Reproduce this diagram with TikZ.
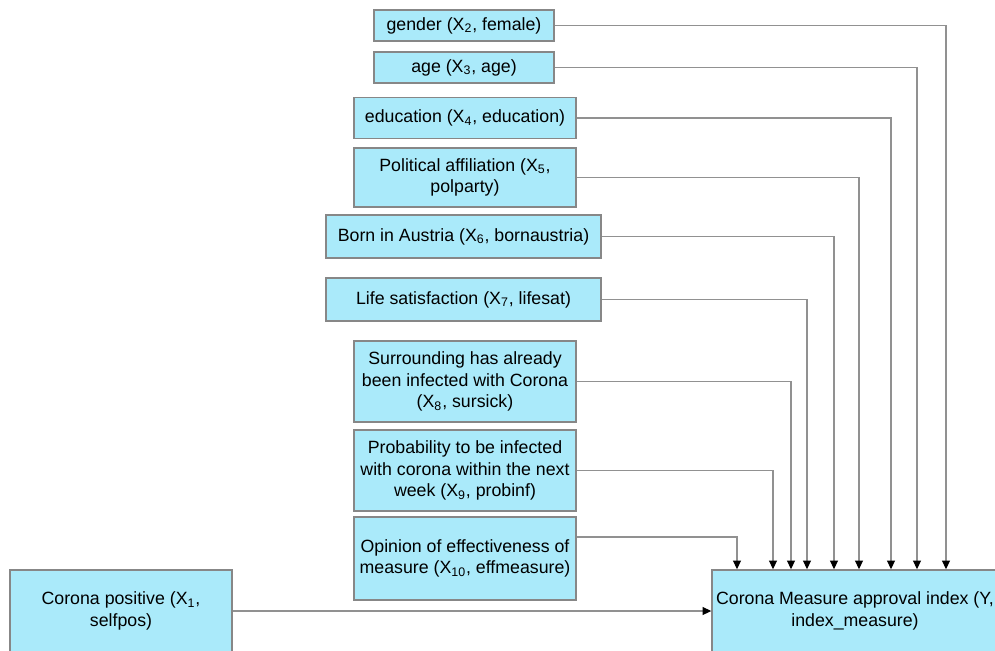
\documentclass[tikz,border=0pt]{standalone}
\usepackage{fontspec}
\setmainfont{Liberation Sans}
\usetikzlibrary{arrows.meta}
\definecolor{boxfill}{RGB}{170,234,250}
\definecolor{boxline}{RGB}{135,135,135}
\definecolor{linkgray}{RGB}{145,145,145}
\tikzset{var/.style={draw=boxline, fill=boxfill, line width=0.8pt, align=center,
                     inner sep=0pt, font=\fontsize{10.1}{12.3}\selectfont},
         link/.style={draw=linkgray, line width=0.7pt,
                      -{Triangle[length=5pt,width=4.5pt,black]}}
}
\newcommand{\xv}[1]{X\textsubscript{#1}}

\begin{document}
\begin{tikzpicture}[x=0.02cm, y=-0.02cm]
      \useasboundingbox (0,0) rectangle (995,650);
      \clip (0,0) rectangle (995,650);
      \node[var, minimum width=3.6cm, minimum height=0.62cm] (x2) at (464,25.5) {gender (\xv{2}, female)};
      \node[var, minimum width=3.6cm, minimum height=0.62cm] (x3) at (464,67.5) {age (\xv{3}, age)};
      \node[var, minimum width=4.44cm, minimum height=0.82cm] (x4) at (465,118) {education (\xv{4}, education)};
      \node[var, minimum width=4.44cm, minimum height=1.18cm] (x5) at (465,177.5) {Political affiliation (\xv{5},\\ polparty)};
      \node[var, minimum width=5.5cm, minimum height=0.86cm] (x6) at (463.5,236.5) {Born in Austria (\xv{6}, bornaustria)};
      \node[var, minimum width=5.5cm, minimum height=0.86cm] (x7) at (463.5,299.5) {Life satisfaction (\xv{7}, lifesat)};
      \node[var, minimum width=4.44cm, minimum height=1.62cm] (x8) at (465,381.5) {Surrounding has already\\ been infected with Corona\\ (\xv{8}, sursick)};
      \node[var, minimum width=4.44cm, minimum height=1.62cm] (x9) at (465,470.5) {Probability to be infected\\ with corona within the next\\ week (\xv{9}, probinf)};
      \node[var, minimum width=4.44cm, minimum height=1.66cm] (x10) at (465,558.5) {Opinion of effectiveness of\\ measure (\xv{10}, effmeasure)};
      \node[var, minimum width=4.44cm, minimum height=1.64cm] (x1) at (121,611) {Corona positive (\xv{1},\\ selfpos)};
      \node[var, minimum width=5.72cm, minimum height=1.64cm] (y) at (855,611) {Corona Measure approval index (Y,\\ index\_measure)};
      \draw[link] (x2.east) -| (946,0 |- y.north);
      \draw[link] (x3.east) -| (917,0 |- y.north);
      \draw[link] (x4.east) -| (891,0 |- y.north);
      \draw[link] (x5.east) -| (859,0 |- y.north);
      \draw[link] (x6.east) -| (834,0 |- y.north);
      \draw[link] (x7.east) -| (807,0 |- y.north);
      \draw[link] (x8.east) -| (791,0 |- y.north);
      \draw[link] (x9.east) -| (773,0 |- y.north);
      \draw[link] (x10.east |- 0,537) -| (737,0 |- y.north);
      \draw[link] (x1.east) -- (y.west);
\end{tikzpicture}
\end{document}
